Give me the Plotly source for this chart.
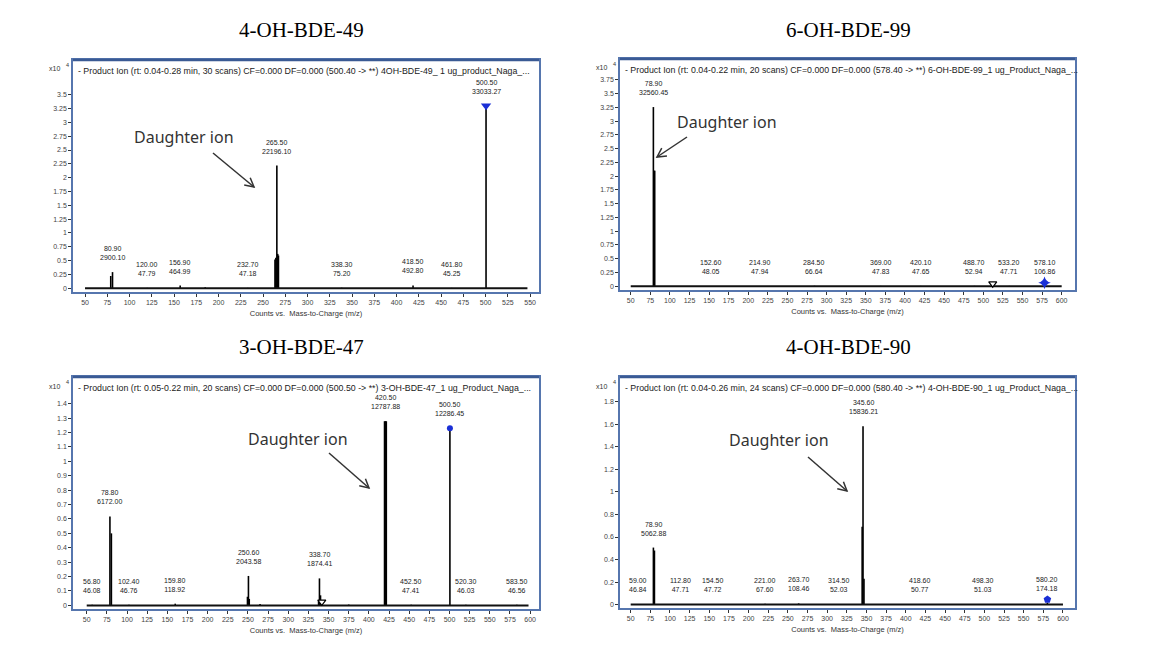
import math
import plotly.graph_objects as go

W, H = 1152, 652
SCALE = 1e4  # intensities shown as x10^4 counts

# ---------------- data ----------------
titles = ["4-OH-BDE-49", "6-OH-BDE-99", "3-OH-BDE-47", "4-OH-BDE-90"]
headers = [
    "- Product Ion (rt: 0.04-0.28 min, 30 scans) CF=0.000 DF=0.000 (500.40 -> **) 4OH-BDE-49_ 1 ug_product_Naga_...",
    "- Product Ion (rt: 0.04-0.22 min, 20 scans) CF=0.000 DF=0.000 (578.40 -> **) 6-OH-BDE-99_1 ug_Product_Naga_...",
    "- Product Ion (rt: 0.05-0.22 min, 20 scans) CF=0.000 DF=0.000 (500.50 -> **) 3-OH-BDE-47_1 ug_Product_Naga_...",
    "- Product Ion (rt: 0.04-0.26 min, 24 scans) CF=0.000 DF=0.000 (580.40 -> **) 4-OH-BDE-90_1 ug_Product_Naga_...",
]
x_title = "Counts vs.  Mass-to-Charge (m/z)"

# Panel 1 : 4-OH-BDE-49
p1_label_mz = [80.90, 120.00, 156.90, 232.70, 265.50, 338.30, 418.50, 461.80, 500.50]
p1_label_int = [2900.10, 47.79, 464.99, 47.18, 22196.10, 75.20, 492.80, 45.25, 33033.27]
p1_extra_mz = [78.9, 185.0, 263.4, 264.4, 266.5, 267.3]
p1_extra_int = [2200, 150, 5200, 5500, 6200, 5900]
p1_scan = [50, 547]
p1_precursor_mz = [500.50]
p1_precursor_int = [33033.27]
p1_open_mz, p1_open_int = [], []
p1_yticks = [0, 0.25, 0.5, 0.75, 1, 1.25, 1.5, 1.75, 2, 2.25, 2.5, 2.75, 3, 3.25, 3.5]

# Panel 2 : 6-OH-BDE-99
p2_label_mz = [78.90, 152.60, 214.90, 284.50, 369.00, 420.10, 488.70, 533.20, 578.10]
p2_label_int = [32560.45, 48.05, 47.94, 66.64, 47.83, 47.65, 52.94, 47.71, 106.86]
p2_extra_mz = [79.8, 80.6]
p2_extra_int = [21000, 21000]
p2_scan = [50, 600]
p2_precursor_mz = [578.10]
p2_precursor_int = [600]
p2_open_mz = [512.0]
p2_open_int = [450]
p2_yticks = [0, 0.25, 0.5, 0.75, 1, 1.25, 1.5, 1.75, 2, 2.25, 2.5, 2.75, 3, 3.25, 3.5, 3.75]

# Panel 3 : 3-OH-BDE-47
p3_label_mz = [56.80, 78.80, 102.40, 159.80, 250.60, 338.70, 420.50, 452.50, 500.50, 520.30, 583.50]
p3_label_int = [46.08, 6172.00, 46.76, 118.92, 2043.58, 1874.41, 12787.88, 47.41, 12286.45, 46.03, 46.56]
p3_extra_mz = [80.6, 249.4, 251.6, 265.0, 337.6, 340.0, 375.0, 419.4, 421.6]
p3_extra_int = [5000, 600, 450, 100, 350, 700, 60, 12780, 12780]
p3_scan = [50, 598]
p3_precursor_mz = [500.50]
p3_precursor_int = [12286.45]
p3_open_mz = [341.6]
p3_open_int = [250]
p3_yticks = [0, 0.1, 0.2, 0.3, 0.4, 0.5, 0.6, 0.7, 0.8, 0.9, 1, 1.1, 1.2, 1.3, 1.4]

# Panel 4 : 4-OH-BDE-90
p4_label_mz = [59.00, 78.90, 112.80, 154.50, 221.00, 263.70, 314.50, 345.60, 418.60, 498.30, 580.20]
p4_label_int = [46.84, 5062.88, 47.71, 47.72, 67.60, 108.46, 52.03, 15836.21, 50.77, 51.03, 174.18]
p4_extra_mz = [80.2, 344.5, 346.8]
p4_extra_int = [4800, 6900, 2300]
p4_scan = [50, 600]
p4_precursor_mz = [580.20]
p4_precursor_int = [450]
p4_open_mz, p4_open_int = [], []
p4_yticks = [0, 0.2, 0.4, 0.6, 0.8, 1, 1.2, 1.4, 1.6, 1.8]

panels = [
    dict(lmz=p1_label_mz, lint=p1_label_int, emz=p1_extra_mz, eint=p1_extra_int, scan=p1_scan,
         pmz=p1_precursor_mz, pint=p1_precursor_int, omz=p1_open_mz, oint=p1_open_int, yt=p1_yticks,
         psym="triangle-down", psize=9),
    dict(lmz=p2_label_mz, lint=p2_label_int, emz=p2_extra_mz, eint=p2_extra_int, scan=p2_scan,
         pmz=p2_precursor_mz, pint=p2_precursor_int, omz=p2_open_mz, oint=p2_open_int, yt=p2_yticks,
         psym="star-diamond", psize=9),
    dict(lmz=p3_label_mz, lint=p3_label_int, emz=p3_extra_mz, eint=p3_extra_int, scan=p3_scan,
         pmz=p3_precursor_mz, pint=p3_precursor_int, omz=p3_open_mz, oint=p3_open_int, yt=p3_yticks,
         psym="circle", psize=6),
    dict(lmz=p4_label_mz, lint=p4_label_int, emz=p4_extra_mz, eint=p4_extra_int, scan=p4_scan,
         pmz=p4_precursor_mz, pint=p4_precursor_int, omz=p4_open_mz, oint=p4_open_int, yt=p4_yticks,
         psym="pentagon", psize=8),
]

# ---------------- layout geometry (pixels) ----------------
frames = [  # left, right, top, bottom
    (73, 539, 60, 292),
    (620, 1075, 59, 290),
    (73, 539, 377, 609),
    (620, 1075, 377, 608),
]
xranges = [[36.5, 560], [36.3, 617], [33, 611], [36.4, 615.3]]
yranges = [[-0.07, 4.13], [-0.07, 4.13], [-0.025, 1.585], [-0.03, 2.02]]
title_pos = [(301, 30), (848, 30), (301, 347), (848, 347)]
daughter_pos = [(184, 137), (727, 122), (298, 439), (779, 440)]
arrow_tail = [(213, 153), (687, 137), (329, 453), (808, 457)]
arrow_head = [(254, 187), (657, 157), (369, 488), (847, 491)]

FRAME = "#5676ae"
TICKFONT = dict(family="Liberation Sans, Arial", size=7, color="#444444")
SMALL = "Liberation Sans, Arial"


def px(x, y):
    return x / W, 1 - y / H


fig = go.Figure()
annotations = []
shapes = []

for i, (p, fr) in enumerate(zip(panels, frames)):
    n = "" if i == 0 else str(i + 1)
    xa, ya = "x" + n, "y" + n
    L, R, T, B = fr

    # stick spectrum
    mzs = list(p["lmz"]) + list(p["emz"])
    ints = list(p["lint"]) + list(p["eint"])
    xs, ys = [], []
    for m, v in zip(mzs, ints):
        xs += [m, m, None]
        ys += [0, v / SCALE, None]
    fig.add_trace(go.Scatter(x=xs, y=ys, mode="lines", line=dict(color="black", width=1.6),
                             hoverinfo="skip", xaxis=xa, yaxis=ya, showlegend=False))
    # baseline
    fig.add_trace(go.Scatter(x=p["scan"], y=[0, 0], mode="lines", line=dict(color="#111111", width=2),
                             hoverinfo="skip", xaxis=xa, yaxis=ya, showlegend=False))
    # precursor marker
    fig.add_trace(go.Scatter(x=p["pmz"], y=[v / SCALE for v in p["pint"]], mode="markers",
                             marker=dict(symbol=p["psym"], size=p["psize"], color="#1a2fd6",
                                         line=dict(width=0)),
                             hoverinfo="skip", xaxis=xa, yaxis=ya, showlegend=False))
    if p["omz"]:
        fig.add_trace(go.Scatter(x=p["omz"], y=[v / SCALE for v in p["oint"]], mode="markers",
                                 marker=dict(symbol="triangle-down", size=7, color="white",
                                             line=dict(color="black", width=1.2)),
                                 hoverinfo="skip", xaxis=xa, yaxis=ya, showlegend=False))

    # peak labels
    for m, v in zip(p["lmz"], p["lint"]):
        annotations.append(dict(x=m, y=v / SCALE, xref=xa, yref=ya, text=f"{m:.2f}<br>{v:.2f}",
                                showarrow=False, yanchor="bottom", xanchor="center", yshift=9,
                                font=dict(family=SMALL, size=7, color="#222222")))

    # axes
    xd = [L / W, R / W]
    yd = [1 - B / H, 1 - T / H]
    fig.layout[("xaxis" + n)] = dict(
        domain=xd, range=xranges[i], anchor=ya, showline=True, mirror=True, linecolor=FRAME, linewidth=1.5,
        ticks="outside", ticklen=3, tickcolor="#333333", tick0=0, dtick=25, showgrid=False, zeroline=False,
        tickfont=TICKFONT,
        title=dict(text=x_title, standoff=6, font=dict(family=SMALL, size=7.5, color="#333333")))
    fig.layout[("yaxis" + n)] = dict(
        domain=yd, range=yranges[i], anchor=xa, showline=True, mirror=True, linecolor=FRAME, linewidth=1.5,
        ticks="outside", ticklen=3, tickcolor="#333333", tickmode="array", tickvals=p["yt"],
        ticktext=[f"{t:g}" for t in p["yt"]], showgrid=False, zeroline=False, tickfont=TICKFONT)

    # top border accent
    shapes.append(dict(type="line", xref="paper", yref="paper", x0=L / W, x1=R / W, y0=1 - T / H,
                       y1=1 - T / H, line=dict(color="#3a5a94", width=2.5)))

    # header
    hx, hy = px(L + 3, T + 11)
    annotations.append(dict(x=hx, y=hy, xref="paper", yref="paper", text=headers[i], showarrow=False,
                            xanchor="left", yanchor="middle",
                            font=dict(family=SMALL, size=8.8, color="#222222")))
    # exponent label "x10 ^4"
    ex, ey = px(L - 11, T + 9)
    annotations.append(dict(x=ex, y=ey, xref="paper", yref="paper", text="x10", showarrow=False,
                            xanchor="right", yanchor="middle",
                            font=dict(family=SMALL, size=7, color="#333333")))
    e4x, e4y = px(L - 9, T + 5)
    annotations.append(dict(x=e4x, y=e4y, xref="paper", yref="paper", text="4", showarrow=False,
                            xanchor="left", yanchor="middle",
                            font=dict(family=SMALL, size=5.5, color="#333333")))

    # panel title
    ttx, tty = px(*title_pos[i])
    annotations.append(dict(x=ttx, y=tty, xref="paper", yref="paper", text=titles[i], showarrow=False,
                            xanchor="center", yanchor="middle",
                            font=dict(family="Liberation Serif, DejaVu Serif, serif", size=21, color="black")))

    # Daughter ion note
    dx, dy = px(*daughter_pos[i])
    annotations.append(dict(x=dx, y=dy, xref="paper", yref="paper", text="Daughter ion", showarrow=False,
                            xanchor="center", yanchor="middle",
                            font=dict(family="Noto Sans, Liberation Sans", size=16, color="#333333")))

    # arrow drawn as shapes (shaft + open V head)
    (x0, y0), (x1, y1) = arrow_tail[i], arrow_head[i]
    ang = math.atan2(y1 - y0, x1 - x0)
    hl = 10
    pts = []
    for da in (math.radians(28), -math.radians(28)):
        pts.append((x1 - hl * math.cos(ang + da), y1 - hl * math.sin(ang + da)))
    sx0, sy0 = px(x0, y0)
    sx1, sy1 = px(x1, y1)
    shapes.append(dict(type="line", xref="paper", yref="paper", x0=sx0, y0=sy0, x1=sx1, y1=sy1,
                       line=dict(color="#333333", width=1.5)))
    a1 = px(*pts[0])
    a2 = px(*pts[1])
    shapes.append(dict(type="path", xref="paper", yref="paper",
                       path=f"M {a1[0]} {a1[1]} L {sx1} {sy1} L {a2[0]} {a2[1]}",
                       line=dict(color="#333333", width=1.5)))

fig.update_layout(width=W, height=H, margin=dict(l=0, r=0, t=0, b=0), paper_bgcolor="white",
                  plot_bgcolor="white", showlegend=False, annotations=annotations, shapes=shapes)

fig.write_html("out.html")
